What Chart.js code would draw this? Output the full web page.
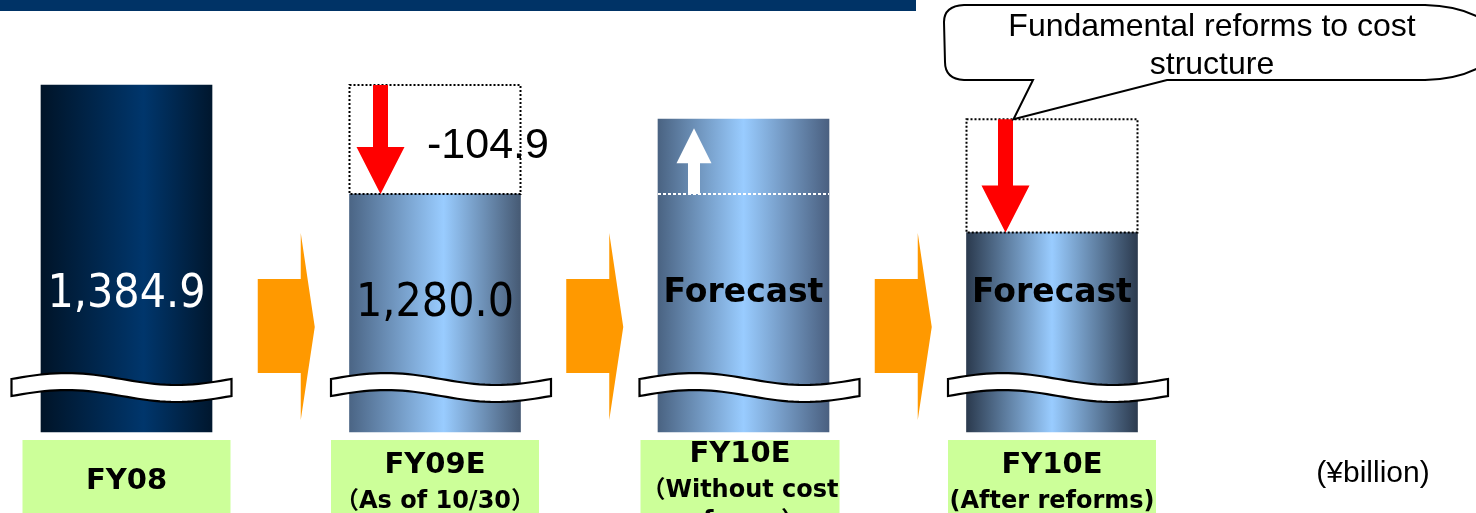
<!DOCTYPE html>
<html>
<head>
<meta charset="utf-8">
<title>Fixed costs: fundamental reforms</title>
<script src="https://cdn.jsdelivr.net/npm/chart.js@4/dist/chart.umd.min.js"></script>
<style>
    html, body {
        margin: 0;
        padding: 0;
        background: #fff;
    }
    .wrap {
        width: 1476px;
        height: 513px;
        position: relative;
    }
</style>
</head>
<body>
<div class="wrap"><canvas id="chart"></canvas></div>
<script>
// categories and the text under each bar
const categories = ['FY08', 'FY09E', 'FY10E', 'FY10E'];
const categoryNotes = [[], ['（As of 10/30）'], ['（Without cost', 'reforms）'], ['(After reforms)']];

const totals = [1384.9, 1280.0, 1352, 1243];
// level each bar is compared with (dotted outline / dotted line)
const fromLevels = [null, 1384.9, 1280.0, 1352];
const markerKind = [null, 'cut', 'rise', 'cut'];
const valueText = ['1,384.9', '1,280.0', 'Forecast', 'Forecast'];
const changeText = [null, (totals[1] - totals[0]).toFixed(1), null, null];

// value where the axis is broken
const axisBreak = 1051;
const unitLabel = '(¥billion)';
const calloutLines = ['Fundamental reforms to cost', 'structure'];

// left edge, centre, right edge colours of each cylinder
const shades = [
    ['#001428', '#00366c', '#00172e', 0.6],
    ['#4b6585', '#99ccff', '#465a74', 0.55],
    ['#4a6382', '#99ccff', '#4a6080', 0.5],
    ['#2b3a4e', '#99ccff', '#2c3b4f', 0.5]
];

function shade(c) {
    if (c.type !== 'data') return '#336699';
    const chart = c.chart;
    if (!chart.chartArea) return '#336699';
    const cx = chart.scales.x.getPixelForValue(c.dataIndex);
    const s = shades[c.dataIndex];
    const g = chart.ctx.createLinearGradient(cx - 85.5, 0, cx + 85.5, 0);
    g.addColorStop(0, s[0]);
    g.addColorStop(s[3], s[1]);
    g.addColorStop(1, s[2]);
    return g;
}

function text(ctx, str, x, y, font, color, align) {
    ctx.font = font;
    ctx.fillStyle = color;
    ctx.textAlign = align || 'center';
    ctx.textBaseline = 'alphabetic';
    ctx.fillText(str, x, y);
}

function downArrow(ctx, cx, y0, y1, color) {
    ctx.fillStyle = color;
    ctx.beginPath();
    ctx.moveTo(cx - 7.5, y0);
    ctx.lineTo(cx + 7.5, y0);
    ctx.lineTo(cx + 7.5, y1 - 47);
    ctx.lineTo(cx + 24, y1 - 47);
    ctx.lineTo(cx, y1);
    ctx.lineTo(cx - 24, y1 - 47);
    ctx.lineTo(cx - 7.5, y1 - 47);
    ctx.closePath();
    ctx.fill();
}

const slidePlugin = {
    id: 'slide',
    beforeDatasetsDraw(chart) {
        const ctx = chart.ctx;
        const area = chart.chartArea;
        const bars = chart.getDatasetMeta(0).data;
        ctx.save();

        // title strip (cut off at the top)
        ctx.fillStyle = '#003366';
        ctx.fillRect(0, 0, 916, 11);

        // orange step arrows between the bars
        ctx.fillStyle = '#ff9900';
        for (let i = 0; i < bars.length - 1; i++) {
            const mid = (bars[i].x + bars[i].width / 2 + bars[i + 1].x - bars[i + 1].width / 2) / 2;
            const cy = area.bottom - 105;
            ctx.beginPath();
            ctx.moveTo(mid - 23, cy - 48);
            ctx.lineTo(mid + 20, cy - 48);
            ctx.lineTo(mid + 20, cy - 94);
            ctx.lineTo(mid + 34, cy);
            ctx.lineTo(mid + 20, cy + 93);
            ctx.lineTo(mid + 20, cy + 46);
            ctx.lineTo(mid - 23, cy + 46);
            ctx.closePath();
            ctx.fill();
        }

        // green category boxes
        bars.forEach((bar, i) => {
            const w = i === 2 ? 199 : 208;
            const bx = i === 2 ? bar.x - 103 : bar.x - 104;
            ctx.fillStyle = '#ccff99';
            ctx.fillRect(bx, area.bottom + 8, w, 80);
            const notes = categoryNotes[i];
            let base = notes.length === 0 ? 489 : notes.length === 1 ? 473 : 462;
            const cx = bx + w / 2;
            text(ctx, categories[i], cx, base, 'bold 29px "DejaVu Sans"', '#000');
            notes.forEach((line, k) => {
                text(ctx, line, cx, base + (k === 0 ? 35 : 66), 'bold 24px "DejaVu Sans", "Noto Sans CJK JP"', '#000');
            });
        });

        text(ctx, unitLabel, 1373, 482, '30px "Liberation Sans", Arial', '#000');
        ctx.restore();
    },
    afterDatasetsDraw(chart) {
        const ctx = chart.ctx;
        const area = chart.chartArea;
        const yScale = chart.scales.y;
        const bars = chart.getDatasetMeta(0).data;
        ctx.save();

        bars.forEach((bar, i) => {
            const left = bar.x - bar.width / 2;
            const right = bar.x + bar.width / 2;

            // value label inside the bar
            const numeric = /\d/.test(valueText[i]);
            const cy = i === 1 ? 299 : 290;
            if (numeric) {
                text(ctx, valueText[i], bar.x, cy + 17, '46px "DejaVu Sans Condensed", "DejaVu Sans"', i === 0 ? '#fff' : '#000');
            } else {
                text(ctx, valueText[i], bar.x, cy + 12, 'bold 33px "DejaVu Sans"', '#000');
            }

            // broken-axis band
            const L = i === 0 ? bar.x - 115 : bar.x - 104;
            const R = i === 0 ? bar.x + 105 : bar.x + 116;
            const top = area.bottom - 53;
            const steps = 40;
            ctx.beginPath();
            for (let k = 0; k <= steps; k++) {
                const t = k / steps;
                const px = L + (R - L) * t;
                const py = top - 6 * Math.sin(2 * Math.PI * t);
                if (k === 0) ctx.moveTo(px, py); else ctx.lineTo(px, py);
            }
            for (let k = steps; k >= 0; k--) {
                const t = k / steps;
                const px = L + (R - L) * t;
                const py = top + 17 - 6 * Math.sin(2 * Math.PI * t);
                ctx.lineTo(px, py);
            }
            ctx.closePath();
            ctx.fillStyle = '#fff';
            ctx.fill();
            ctx.lineWidth = 2.2;
            ctx.strokeStyle = '#000';
            ctx.setLineDash([]);
            ctx.stroke();

            const kind = markerKind[i];
            if (kind === 'cut') {
                const y0 = yScale.getPixelForValue(fromLevels[i]);
                const y1 = bar.y;
                ctx.setLineDash([2, 2]);
                ctx.lineWidth = 2;
                ctx.strokeStyle = '#000';
                ctx.strokeRect(left, y0, right - left, y1 - y0);
                ctx.setLineDash([]);
                const ax = left + (i === 1 ? 31 : 39);
                downArrow(ctx, ax, y0, y1, '#ff0000');
                if (changeText[i]) {
                    text(ctx, changeText[i], bar.x + 53, y0 + 73, '43px "Liberation Sans", Arial', '#000');
                }
                if (i === bars.length - 1) {
                    // speech bubble pointing at the arrow
                    const tipX = ax + 8;
                    const tipY = y0;
                    ctx.beginPath();
                    ctx.moveTo(964, 5);
                    ctx.lineTo(1425, 5);
                    ctx.bezierCurveTo(1470, 6, 1500, 25, 1500, 42);
                    ctx.bezierCurveTo(1500, 60, 1470, 79, 1425, 80);
                    ctx.lineTo(1167, 80);
                    ctx.lineTo(tipX, tipY);
                    ctx.lineTo(1033, 80);
                    ctx.lineTo(964, 80);
                    ctx.quadraticCurveTo(945, 79, 945, 62);
                    ctx.lineTo(944, 22);
                    ctx.quadraticCurveTo(944, 6, 964, 5);
                    ctx.closePath();
                    ctx.fillStyle = '#fff';
                    ctx.fill();
                    ctx.lineWidth = 2;
                    ctx.strokeStyle = '#000';
                    ctx.stroke();
                    text(ctx, calloutLines[0], 1212, 36, '32px "Liberation Sans", Arial', '#000');
                    text(ctx, calloutLines[1], 1212, 74, '32px "Liberation Sans", Arial', '#000');
                }
            } else if (kind === 'rise') {
                const yl = yScale.getPixelForValue(fromLevels[i]);
                ctx.setLineDash([3, 2]);
                ctx.lineWidth = 2;
                ctx.strokeStyle = '#fff';
                ctx.beginPath();
                ctx.moveTo(left, yl);
                ctx.lineTo(right, yl);
                ctx.stroke();
                ctx.setLineDash([]);
                const ax = left + 36;
                const headTop = bar.y + 9;
                ctx.fillStyle = '#fff';
                ctx.beginPath();
                ctx.moveTo(ax, headTop);
                ctx.lineTo(ax + 17.5, headTop + 35);
                ctx.lineTo(ax + 6, headTop + 35);
                ctx.lineTo(ax + 6, yl);
                ctx.lineTo(ax - 6, yl);
                ctx.lineTo(ax - 6, headTop + 35);
                ctx.lineTo(ax - 17.5, headTop + 35);
                ctx.closePath();
                ctx.fill();
            }
        });
        ctx.restore();
    }
};

new Chart(document.getElementById('chart'), {
    type: 'bar',
    data: {
        labels: categories,
        datasets: [{
            data: totals,
            base: axisBreak,
            backgroundColor: shade,
            borderWidth: 0,
            barThickness: 171,
            clip: false
        }]
    },
    options: {
        responsive: true,
        maintainAspectRatio: false,
        animation: false,
        layout: { padding: { left: 126.5, right: 424, top: 85, bottom: 81 } },
        scales: {
            x: { display: false, offset: false },
            y: { display: false, min: axisBreak, max: Math.max(...totals) }
        },
        plugins: {
            legend: { display: false },
            tooltip: { enabled: false }
        }
    },
    plugins: [slidePlugin]
});
</script>
</body>
</html>
